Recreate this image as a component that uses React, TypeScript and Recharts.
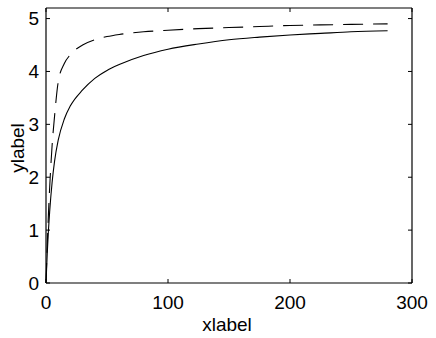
import React from 'react';
import { LineChart, Line, XAxis, YAxis } from 'recharts';

// values
const xValues = [0, 1, 2, 3, 5, 7, 10, 15, 20, 30, 40, 50, 60, 80, 100, 125, 150, 175, 200, 225, 250, 280];
const solidValues = [0, 0.55, 1.0, 1.35, 1.9, 2.3, 2.7, 3.1, 3.35, 3.65, 3.87, 4.02, 4.13, 4.3, 4.42, 4.52, 4.6, 4.65, 4.69, 4.72, 4.75, 4.77];
const dashedValues = [0, 0.7, 1.3, 1.8, 2.6, 3.15, 3.8, 4.15, 4.32, 4.5, 4.6, 4.66, 4.7, 4.75, 4.78, 4.81, 4.83, 4.85, 4.87, 4.88, 4.89, 4.9];
const xTicks = [0, 100, 200, 300];
const yTicks = [0, 1, 2, 3, 4, 5];

const data = xValues.map((x, i) => ({ x, solid: solidValues[i], dashed: dashedValues[i] }));

const FONT = '"Liberation Sans", Arial, Helvetica, sans-serif';
const TICK_LEN = 4;
const FS = 19;

const BottomTick = ({ x, y, payload }: any) => (
  <g>
    <line x1={x} x2={x} y1={y} y2={y - TICK_LEN} stroke="#000" strokeWidth={1} />
    <text x={x} y={y + 19} textAnchor="middle" dominantBaseline="central" fontSize={FS} fontFamily={FONT} fill="#000">
      {payload.value}
    </text>
  </g>
);

const LeftTick = ({ x, y, payload }: any) => (
  <g>
    <line x1={x} x2={x + TICK_LEN} y1={y} y2={y} stroke="#000" strokeWidth={1} />
    <text x={x - 7} y={y} textAnchor="end" dominantBaseline="central" fontSize={FS} fontFamily={FONT} fill="#000">
      {payload.value}
    </text>
  </g>
);

// top / right axes only carry inward ticks (box around the plot)
const TopTick = ({ x, y }: any) => (
  <line x1={x} x2={x} y1={y} y2={y + TICK_LEN} stroke="#000" strokeWidth={1} />
);

const RightTick = ({ x, y }: any) => (
  <line x1={x} x2={x - TICK_LEN} y1={y} y2={y} stroke="#000" strokeWidth={1} />
);

export default function App() {
  return (
    <div style={{ position: 'absolute', left: 0, top: 0, width: 436, height: 338, background: '#fff' }}>
      <LineChart width={436} height={338} data={data} margin={{ top: 7, right: 23, bottom: 25, left: 0 }}>
        <XAxis
          xAxisId="bottom"
          dataKey="x"
          type="number"
          domain={[0, 300]}
          ticks={xTicks}
          height={30}
          tickSize={0}
          tickMargin={0}
          tickLine={false}
          axisLine={{ stroke: '#000', strokeWidth: 1.2 }}
          tick={<BottomTick />}
        />
        <XAxis
          xAxisId="top"
          orientation="top"
          dataKey="x"
          type="number"
          domain={[0, 300]}
          ticks={xTicks}
          height={1}
          tickSize={0}
          tickMargin={0}
          tickLine={false}
          axisLine={{ stroke: '#000', strokeWidth: 1.2 }}
          tick={<TopTick />}
        />
        <YAxis
          yAxisId="left"
          type="number"
          domain={[0, 5.2]}
          ticks={yTicks}
          width={46}
          tickSize={0}
          tickMargin={0}
          tickLine={false}
          axisLine={{ stroke: '#000', strokeWidth: 1.2 }}
          tick={<LeftTick />}
        />
        <YAxis
          yAxisId="right"
          orientation="right"
          type="number"
          domain={[0, 5.2]}
          ticks={yTicks}
          width={1}
          tickSize={0}
          tickMargin={0}
          tickLine={false}
          axisLine={{ stroke: '#000', strokeWidth: 1.2 }}
          tick={<RightTick />}
        />
        <Line
          xAxisId="top"
          yAxisId="right"
          type="monotone"
          dataKey="dashed"
          stroke="#000"
          strokeWidth={1.1}
          strokeDasharray="20 10"
          dot={false}
          activeDot={false}
          isAnimationActive={false}
        />
        <Line
          xAxisId="bottom"
          yAxisId="left"
          type="monotone"
          dataKey="solid"
          stroke="#000"
          strokeWidth={1.1}
          dot={false}
          activeDot={false}
          isAnimationActive={false}
        />
      </LineChart>
      <svg width={436} height={338} style={{ position: 'absolute', left: 0, top: 0, pointerEvents: 'none' }}>
        <text x={227} y={324} textAnchor="middle" dominantBaseline="central" fontSize={FS} fontFamily={FONT} fill="#000">
          xlabel
        </text>
        <text
          x={17}
          y={148}
          textAnchor="middle"
          dominantBaseline="central"
          fontSize={FS}
          fontFamily={FONT}
          fill="#000"
          transform="rotate(-90 17 148)"
        >
          ylabel
        </text>
      </svg>
    </div>
  );
}
